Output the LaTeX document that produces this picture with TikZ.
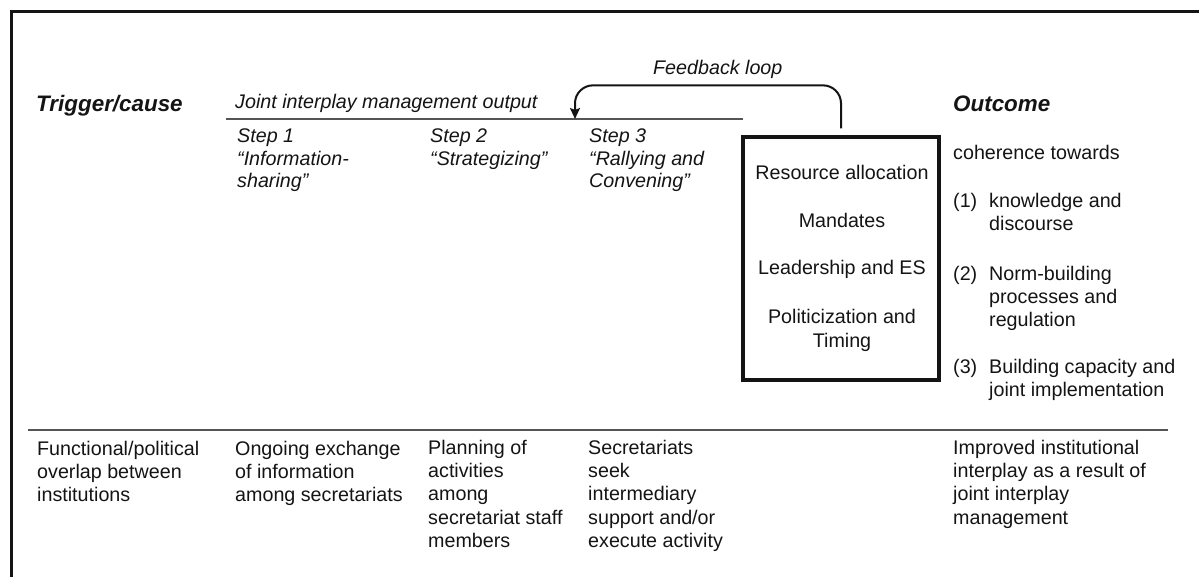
\documentclass[tikz,border=0pt]{standalone}
\usepackage{fontspec}
\setmainfont{Liberation Sans}
\usetikzlibrary{arrows.meta}
\definecolor{ink}{HTML}{141414}
\definecolor{rulegray}{HTML}{555555}
\begin{document}
% multi-line nodes are placed by the baseline of their last line
\begin{tikzpicture}[x=1pt,y=-1pt,
  txt/.style={anchor=base west, inner sep=0pt, align=left, text=ink,
    font=\fontsize{19.7}{23.4}\selectfont},
  outtxt/.style={txt, font=\fontsize{19.7}{23}\selectfont},
  ittxt/.style={txt, font=\fontsize{19.7}{22.5}\selectfont\itshape},
  head/.style={txt, font=\fontsize{22.4}{26}\selectfont\bfseries\itshape},
  boxtxt/.style={anchor=base, inner sep=0pt, align=center, text=ink,
    font=\fontsize{19.7}{24}\selectfont},
  factorbox/.style={draw=ink, line width=3.3pt, inner sep=0pt,
    minimum width=196pt, minimum height=243pt},
  thinrule/.style={draw=rulegray, line width=1.4pt},
  baserule/.style={draw=rulegray, line width=1.8pt},
  fbarrow/.style={draw=ink, line width=2pt, rounded corners=18pt,
    -{Stealth[length=11pt, width=10pt, inset=2pt]}},
]
\useasboundingbox (0,0) rectangle (1199,577);

% outer frame (left and top edges)
\draw[ink, line width=3pt] (11,577) -- (11,12) -- (1199,12);

% column headings
\node[head]  (trig) at (36,112)  {Trigger/cause};
\node[ittxt] (jim)  at (235,109) {Joint interplay management output};
\node[head]  (out)  at (953,112) {Outcome};
\node[ittxt] (fbl)  at (653,75)  {Feedback loop};

% rules
\coordinate (jl) at (226,119);
\coordinate (jr) at (743,119);
\draw[thinrule] (jl) -- (jr);
\coordinate (bl) at (28,430);
\coordinate (br) at (1168,430);
\draw[baserule] (bl) -- (br);

% the three steps
\node[ittxt] (s1) at (237,188)   {Step 1\\“Information-\\sharing"};
\node[ittxt] (s2) at (430,165.5) {Step 2\\“Strategizing"};
\node[ittxt] (s3) at (589,188)   {Step 3\\“Rallying and\\Convening"};

% box of conditions
\node[factorbox] (fbox) at (841,258.5) {};
\node[boxtxt] (res)  at (842,180) {Resource allocation};
\node[boxtxt] (man)  at (842,228) {Mandates};
\node[boxtxt] (lead) at (842,275) {Leadership and ES};
\node[boxtxt] (pol)  at (842,347) {Politicization and\\Timing};

% feedback loop arrow back onto the output rule
\coordinate (fbend) at (575,119);
\draw[fbarrow] ([yshift=7pt]fbox.north) -- ++(0,-43) -| (fbend);

% outcome list
\node[outtxt] (coh) at (953,160) {coherence towards};
\node[outtxt] (n1)  at (953,208) {(1)};
\node[outtxt] (o1)  at (989,231) {knowledge and\\discourse};
\node[outtxt] (n2)  at (953,280) {(2)};
\node[outtxt] (o2)  at (989,326) {Norm-building\\processes and\\regulation};
\node[outtxt] (n3)  at (953,373) {(3)};
\node[outtxt] (o3)  at (989,396) {Building capacity and\\joint implementation};

% bottom row
\node[txt] (b0) at (37,501.8)  {Functional/political\\overlap between\\institutions};
\node[txt] (b1) at (235,501.8) {Ongoing exchange\\of information\\among secretariats};
\node[txt] (b2) at (428,547.6) {Planning of\\activities\\among\\secretariat staff\\members};
\node[txt] (b3) at (588,547.6) {Secretariats\\seek\\intermediary\\support and/or\\execute activity};
\node[txt] (b4) at (953,524.2) {Improved institutional\\interplay as a result of\\joint interplay\\management};
\end{tikzpicture}
\end{document}
